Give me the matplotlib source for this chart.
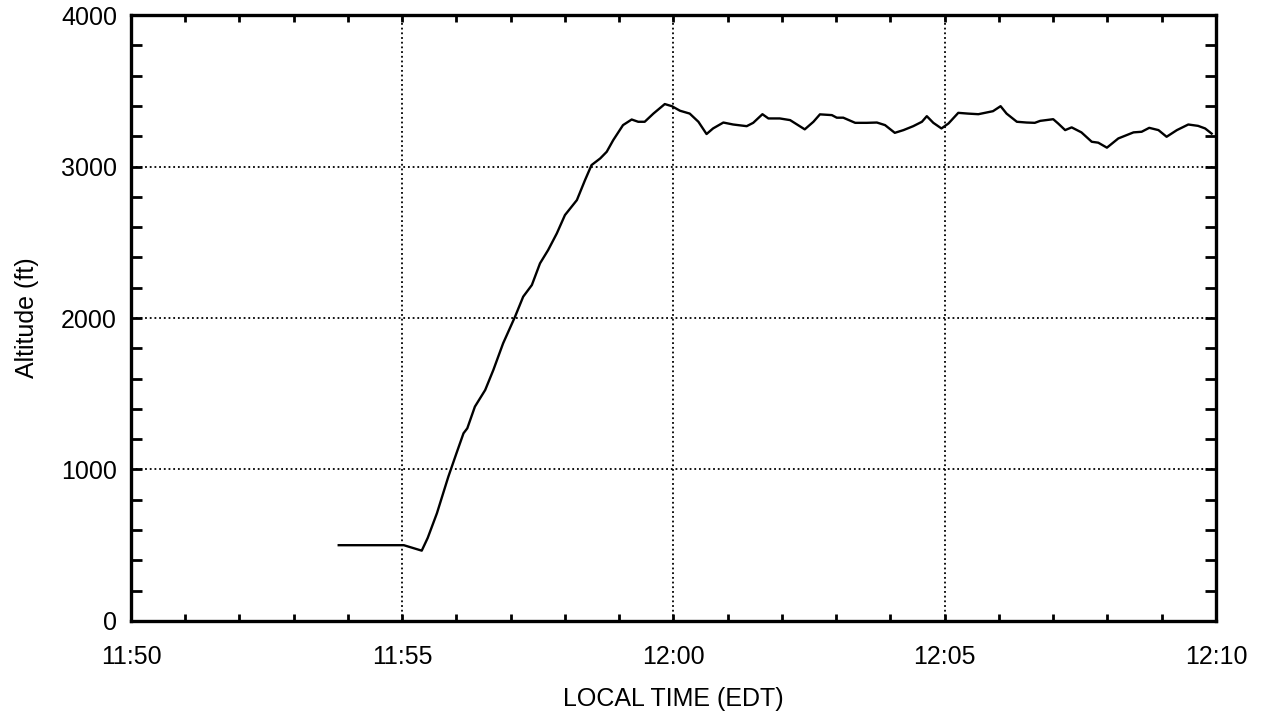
import matplotlib
matplotlib.use("Agg")
import matplotlib.pyplot as plt
from matplotlib.ticker import FixedLocator, MultipleLocator

# minutes after 11:50 EDT, altitude in ft
minutes = [3.83, 5.03, 5.36, 5.47, 5.64, 5.85, 6.00, 6.13, 6.20, 6.34, 6.53, 6.68,
           6.86, 7.08, 7.23, 7.39, 7.54, 7.69, 7.85, 8.00, 8.22, 8.37, 8.49, 8.65,
           8.77, 8.89, 9.07, 9.23, 9.35, 9.47, 9.63, 9.84, 9.97, 10.12, 10.30, 10.46,
           10.61, 10.73, 10.92, 11.10, 11.35, 11.47, 11.64, 11.75, 11.96, 12.15, 12.42,
           12.58, 12.70, 12.92, 13.01, 13.13, 13.35, 13.56, 13.75, 13.90, 14.08, 14.24,
           14.42, 14.58, 14.67, 14.79, 14.94, 15.07, 15.25, 15.43, 15.62, 15.89, 16.03,
           16.14, 16.33, 16.51, 16.66, 16.76, 17.00, 17.09, 17.22, 17.34, 17.52, 17.71,
           17.83, 17.99, 18.20, 18.48, 18.63, 18.77, 18.94, 19.09, 19.28, 19.49, 19.67,
           19.80, 19.92]
altitude = [500, 500, 464, 548, 711, 952, 1107, 1239, 1272, 1415, 1525, 1657,
            1833, 2009, 2141, 2218, 2361, 2449, 2559, 2680, 2779, 2911, 3010, 3054,
            3098, 3175, 3274, 3311, 3296, 3296, 3350, 3413, 3399, 3369, 3350, 3296,
            3215, 3252, 3291, 3278, 3267, 3289, 3346, 3318, 3318, 3307, 3246,
            3296, 3345, 3340, 3323, 3323, 3289, 3289, 3291, 3274, 3223, 3241,
            3267, 3296, 3333, 3289, 3252, 3285, 3355, 3350, 3346, 3366, 3399,
            3350, 3296, 3291, 3289, 3302, 3313, 3285, 3241, 3259, 3226, 3164,
            3158, 3125, 3186, 3226, 3230, 3256, 3241, 3197, 3241, 3278, 3269,
            3252, 3218]

x_ticks = [0, 5, 10, 15, 20]
x_labels = ["11:50", "11:55", "12:00", "12:05", "12:10"]
y_ticks = [0, 1000, 2000, 3000, 4000]

plt.rcParams["font.family"] = ["Liberation Sans", "DejaVu Sans"]

fig = plt.figure(figsize=(12.64, 7.22), dpi=100)
ax = fig.add_axes([0.1036, 0.14, 0.8584, 0.839])

ax.plot(minutes, altitude, color="black", lw=1.7)

ax.set_xlim(0, 20)
ax.set_ylim(0, 4000)
ax.xaxis.set_major_locator(FixedLocator(x_ticks))
ax.set_xticklabels(x_labels)
ax.xaxis.set_minor_locator(MultipleLocator(1))
ax.yaxis.set_major_locator(FixedLocator(y_ticks))
ax.yaxis.set_minor_locator(MultipleLocator(200))

ax.grid(True, which="major", color="black", lw=1.3, linestyle=(0, (1, 1.6)))

ax.tick_params(axis="both", which="both", direction="in", top=True, right=True,
               labelsize=18, width=2, color="black")
ax.tick_params(axis="x", which="both", length=5, pad=17)
ax.tick_params(axis="y", which="both", length=8, pad=10)
for s in ax.spines.values():
    s.set_linewidth(2.4)

ax.set_xlabel("LOCAL TIME (EDT)", fontsize=18, labelpad=13)
ax.set_ylabel("Altitude (ft)", fontsize=18, labelpad=16)

fig.savefig("out.png", dpi=100)
